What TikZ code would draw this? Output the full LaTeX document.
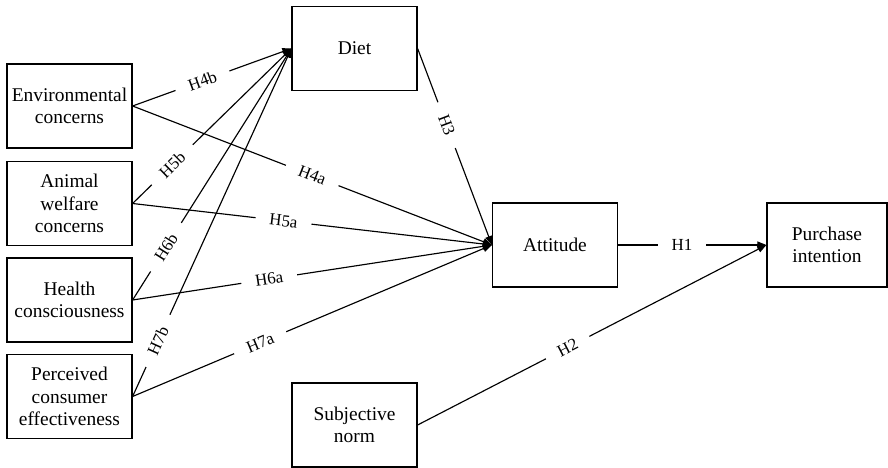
\documentclass[tikz,border=0pt]{standalone}
\usepackage{fontspec}
\setmainfont{Liberation Serif}
\usetikzlibrary{arrows.meta}
\begin{document}
\begin{tikzpicture}[x=1bp,y=-1bp,
  box/.style={draw,line width=1.2bp,minimum width=125bp,minimum height=84bp,inner sep=0pt,align=center,font=\fontsize{19.5}{22.5}\selectfont},
  conn/.style={line width=1.15bp,-{Triangle[length=9bp,width=7bp]}},
  lbl/.style={fill=white,inner xsep=14bp,inner ysep=1bp,sloped,font=\fontsize{17}{19}\selectfont}]
\useasboundingbox (0,0) rectangle (888,468);
\node[box] (env) at (69.5,106) {Environmental\\concerns};
\node[box] (ani) at (69.5,203.5) {Animal\\welfare\\concerns};
\node[box] (hea) at (69.5,300) {Health\\consciousness};
\node[box] (per) at (69.5,396.5) {Perceived\\consumer\\effectiveness};
\node[box] (diet) at (354.5,48.5) {Diet};
\node[box] (att) at (555,245) {Attitude};
\node[box,minimum width=120bp] (pur) at (827,245) {Purchase\\intention};
\node[box] (sub) at (354.5,425) {Subjective\\norm};
% connectors
\draw[conn] (env.east) -- (diet.west);
\draw[conn] (ani.east) -- (diet.west);
\draw[conn] (hea.east) -- (diet.west);
\draw[conn] (per.east) -- (diet.west);
\draw[conn] (env.east) -- (att.west);
\draw[conn] (ani.east) -- (att.west);
\draw[conn] (hea.east) -- (att.west);
\draw[conn] (per.east) -- (att.west);
\draw[conn] (diet.east) -- (att.west);
\draw[conn] (att.east) -- (pur.west);
\draw[conn] (sub.east) -- (pur.west);
% labels
\path (env.east) -- (diet.west) node[lbl,pos=0.44] {H4b};
\path (ani.east) -- (diet.west) node[lbl,pos=0.25] {H5b};
\path (hea.east) -- (diet.west) node[lbl,pos=0.21] {H6b};
\path (per.east) -- (diet.west) node[lbl,pos=0.16] {H7b};
\path (env.east) -- (att.west) node[lbl,pos=0.5] {H4a};
\path (ani.east) -- (att.west) node[lbl,pos=0.42] {H5a};
\path (hea.east) -- (att.west) node[lbl,pos=0.38] {H6a};
\path (per.east) -- (att.west) node[lbl,pos=0.355] {H7a};
\path (diet.east) -- (att.west) node[lbl,pos=0.39] {H3};
\path (att.east) -- (pur.west) node[lbl,pos=0.43] {H1};
\path (sub.east) -- (pur.west) node[lbl,pos=0.43] {H2};
\end{tikzpicture}
\end{document}
